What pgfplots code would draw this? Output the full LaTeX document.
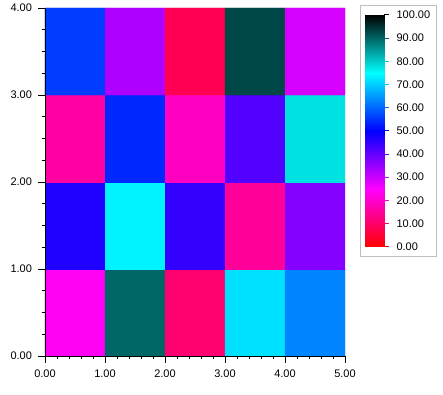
\documentclass[border=0pt]{standalone}
\usepackage{pgfplots}
\pgfplotsset{compat=1.18}
\usepackage{fontspec}
\setmainfont{Liberation Sans}
\pgfplotsset{colormap={jf}{rgb255(0cm)=(255,0,0) rgb255(1cm)=(255,0,255) rgb255(2cm)=(0,0,255) rgb255(3cm)=(0,255,255) rgb255(4cm)=(0,0,0)}}
\begin{document}
\begin{tikzpicture}
\path[use as bounding box] (-45pt,-38pt) rectangle (398pt,356pt);
\begin{axis}[at={(0pt,0pt)}, anchor=south west, width=300pt, height=348pt, scale only axis,
  xmin=0, xmax=5, ymin=0, ymax=4, axis lines*=left, axis on top,
  axis line style={black, line width=0.8pt},
  colormap name=jf, point meta min=0, point meta max=100,
  xtick={0,1,2,3,4,5}, ytick={0,1,2,3,4}, minor x tick num=4, minor y tick num=3,
  tick align=outside, major tick length=6.5pt, minor tick length=3pt,
  tick style={black, line width=0.8pt},
  ticklabel style={font=\fontsize{11}{13}\selectfont},
  xticklabel style={yshift=-4pt},
  yticklabel style={xshift=-3pt},
  /pgf/number format/fixed, /pgf/number format/fixed zerofill,
  /pgf/number format/precision=2, /pgf/number format/assume math mode=true]
\addplot[matrix plot*, mesh/cols=5, point meta=explicit] table[meta=c] {
x y c
0.5 0.5 24
1.5 0.5 90
2.5 0.5 11
3.5 0.5 72
4.5 0.5 63
0.5 1.5 47
1.5 1.5 74
2.5 1.5 45
3.5 1.5 15
4.5 1.5 37
0.5 2.5 16
1.5 2.5 54
2.5 2.5 19
3.5 2.5 42
4.5 2.5 78
0.5 3.5 56
1.5 3.5 33
2.5 3.5 8
3.5 3.5 93
4.5 3.5 29
};
\end{axis}
\draw[color={rgb,255:red,190;green,190;blue,190}, line width=0.8pt] (315pt,99.3pt) rectangle (391pt,351pt);
\begin{axis}[at={(320pt,109.3pt)}, anchor=south west, width=19pt, height=231.7pt, scale only axis,
  xmin=0, xmax=1, ymin=0, ymax=100, hide x axis, axis y line*=right,
  y axis line style={draw=none}, ytick={0,10,...,100}, major tick length=0pt,
  yticklabel style={font=\fontsize{11}{13}\selectfont, xshift=9pt},
  colormap name=jf, point meta min=0, point meta max=100, clip=false,
  /pgf/number format/fixed, /pgf/number format/fixed zerofill,
  /pgf/number format/precision=2, /pgf/number format/assume math mode=true]
\addplot[surf, shader=interp, point meta=y, mesh/cols=2, mesh/rows=5] table {
x y
0 0
1 0
0 25
1 25
0 50
1 50
0 75
1 75
0 100
1 100
};
\pgfplotsinvokeforeach{0,10,20,30,40,50,60,70,80,90,100}{
\addplot[mesh, point meta=y, line width=1pt, forget plot] coordinates {(1,#1) (1.27,#1)};
}
\end{axis}
\end{tikzpicture}
\end{document}
